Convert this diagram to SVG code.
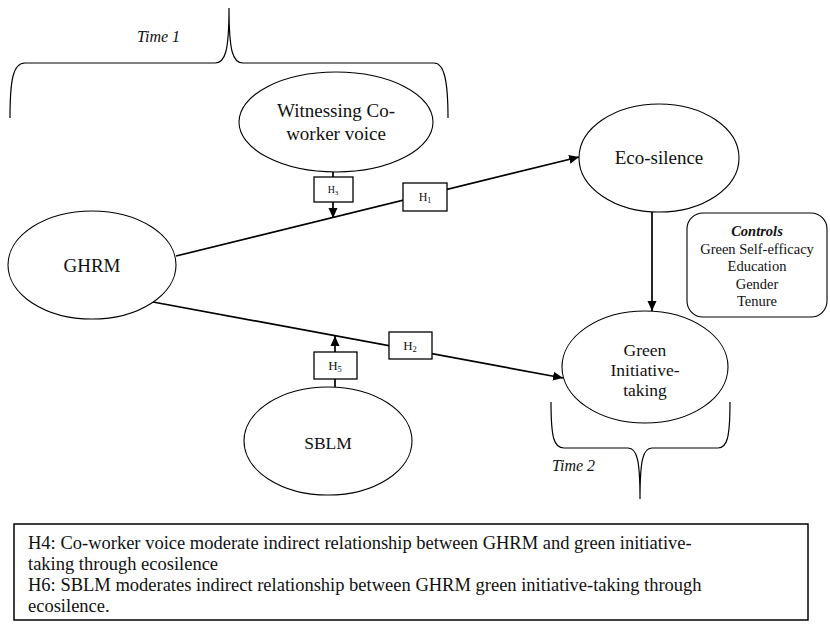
<svg xmlns="http://www.w3.org/2000/svg" width="830" height="631" viewBox="0 0 830 631">
<defs>
<marker id="arr" viewBox="0 0 10 10" refX="10" refY="5" markerWidth="10" markerHeight="10" markerUnits="userSpaceOnUse" orient="auto">
<path d="M0,0.5 L10,5 L0,9.5 Z" fill="#000"/>
</marker>
<style>
text{font-family:"Liberation Serif","Times New Roman",Tinos,"DejaVu Serif",serif;fill:#111}
.ell{fill:#fff;stroke:#000;stroke-width:1.1}
.lbl{font-size:19px;text-anchor:middle}
.lbs{font-size:17.5px;text-anchor:middle}
.hb{fill:#fff;stroke:#000;stroke-width:1.3}
.hl{text-anchor:middle}
.con{fill:none;stroke:#000;stroke-width:1.7}
.brace{fill:none;stroke:#000;stroke-width:1.2}
.time{font-size:16px;font-style:italic}
.ctl{font-size:14.5px;text-anchor:middle}
.note{font-size:18.5px}
</style>
</defs>
<rect width="830" height="631" fill="#fff"/>

<g id="brace-time1">
<path class="brace" d="M10,118 C10,80 13,63 25,63 L215,63 C225,63 229,52 229,8 C229,52 233,63 243,63 L434,63 C444,63 448,80 448,118"/>
<text class="time" x="137" y="42">Time 1</text>
</g>

<g id="brace-time2">
<path class="brace" d="M551,402 C551,438 554,448 564,448 L628,448 C637,448 640,460 640,499 C640,460 643,448 652,448 L718,448 C727,448 730,438 730,402"/>
<text class="time" x="552" y="471">Time 2</text>
</g>

<g id="connectors">
<line class="con" x1="176" y1="256" x2="579" y2="157" marker-end="url(#arr)"/>
<line class="con" x1="153" y1="302" x2="563" y2="378" marker-end="url(#arr)"/>
<line class="con" x1="652" y1="212" x2="652" y2="311" marker-end="url(#arr)"/>
<line class="con" x1="333" y1="172" x2="333" y2="177"/>
<line class="con" x1="333" y1="202" x2="333" y2="218" marker-end="url(#arr)"/>
<line class="con" x1="335" y1="379" x2="335" y2="387"/>
<line class="con" x1="335" y1="352" x2="335" y2="336" marker-end="url(#arr)"/>
</g>

<g id="witnessing">
<ellipse class="ell" cx="336" cy="122" rx="97" ry="50"/>
<text class="lbl" x="336" y="117">Witnessing Co-</text>
<text class="lbl" x="336" y="140">worker voice</text>
</g>

<g id="eco-silence">
<ellipse class="ell" cx="659" cy="158" rx="80" ry="54"/>
<text class="lbl" x="659" y="164">Eco-silence</text>
</g>

<g id="ghrm">
<ellipse class="ell" cx="92" cy="265" rx="84" ry="54"/>
<text class="lbl" x="92" y="272">GHRM</text>
</g>

<g id="sblm">
<ellipse class="ell" cx="328" cy="441" rx="84" ry="54"/>
<text class="lbs" x="328" y="449">SBLM</text>
</g>

<g id="green-initiative">
<ellipse class="ell" cx="645" cy="367" rx="83" ry="56"/>
<text class="lbs" x="645" y="356">Green</text>
<text class="lbs" x="645" y="376">Initiative-</text>
<text class="lbs" x="645" y="396">taking</text>
</g>

<g id="h3">
<rect class="hb" x="314" y="177" width="39" height="25"/>
<text class="hl" x="333" y="193" font-size="10">H<tspan font-size="7" dy="2">3</tspan></text>
</g>
<g id="h1">
<rect class="hb" x="403" y="183" width="44" height="28"/>
<text class="hl" x="425" y="201" font-size="12">H<tspan font-size="8" dy="2">1</tspan></text>
</g>
<g id="h2">
<rect class="hb" x="389" y="332" width="43" height="27"/>
<text class="hl" x="410" y="350" font-size="13">H<tspan font-size="8.5" dy="2">2</tspan></text>
</g>
<g id="h5">
<rect class="hb" x="314" y="352" width="43" height="27"/>
<text class="hl" x="335" y="370" font-size="13">H<tspan font-size="8.5" dy="2">5</tspan></text>
</g>

<g id="controls">
<rect x="687" y="213" width="140" height="104" rx="16" ry="16" fill="#fff" stroke="#000" stroke-width="1.1"/>
<text class="ctl" x="757" y="236" font-weight="bold" font-style="italic">Controls</text>
<text class="ctl" x="757" y="253.5">Green Self-efficacy</text>
<text class="ctl" x="757" y="271">Education</text>
<text class="ctl" x="757" y="288.5">Gender</text>
<text class="ctl" x="757" y="306">Tenure</text>
</g>

<g id="notes">
<rect x="14" y="524" width="794" height="96" fill="#fff" stroke="#000" stroke-width="1.5"/>
<text class="note" x="28" y="549">H4: Co-worker voice moderate indirect relationship between GHRM and green initiative-</text>
<text class="note" x="28" y="570">taking through ecosilence</text>
<text class="note" x="28" y="591">H6: SBLM moderates indirect relationship between GHRM green initiative-taking through</text>
<text class="note" x="28" y="612">ecosilence.</text>
</g>
</svg>
